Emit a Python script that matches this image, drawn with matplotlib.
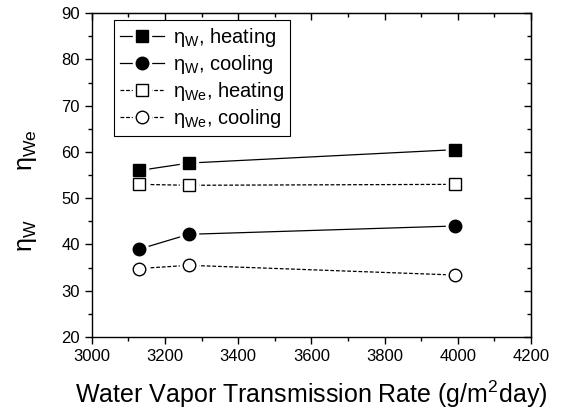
import numpy as np
import matplotlib
matplotlib.use('Agg')
import matplotlib.pyplot as plt
from matplotlib.ticker import MultipleLocator
from matplotlib.lines import Line2D
from matplotlib.legend_handler import HandlerTuple

plt.rcParams['font.family'] = ['Liberation Sans', 'DejaVu Sans']
plt.rcParams['mathtext.fontset'] = 'custom'
plt.rcParams['mathtext.rm'] = 'Liberation Sans'

wvtr = [3130, 3265, 3993]
eta_w_heat = [56.0, 57.6, 60.5]
eta_w_cool = [39.0, 42.2, 44.0]
eta_we_heat = [53.0, 52.8, 53.0]
eta_we_cool = [34.8, 35.5, 33.4]

series = [
    (eta_w_heat, 's', 'k', '-', 'η$_\\mathregular{W}$, heating'),
    (eta_w_cool, 'o', 'k', '-', 'η$_\\mathregular{W}$, cooling'),
    (eta_we_heat, 's', 'w', (0, (3, 1.5)), 'η$_\\mathregular{We}$, heating'),
    (eta_we_cool, 'o', 'w', (0, (3, 1.5)), 'η$_\\mathregular{We}$, cooling'),
]

fig = plt.figure(figsize=(5.63, 4.12), dpi=100)
ax = fig.add_axes([0.163, 0.182, 0.780, 0.786])

handles, labels = [], []
for vals, mk, fc, ls, lab in series:
    ax.plot(wvtr, vals, color='k', lw=0.9, ls=ls, zorder=2)
    # white halo so the line stops short of the marker
    ax.plot(wvtr, vals, ls='none', marker=mk, ms=13, mfc='w', mec='w', zorder=3)
    ax.plot(wvtr, vals, ls='none', marker=mk, ms=9, mfc=fc, mec='k', mew=1.0, zorder=4)
    h = (Line2D([], [], color='k', lw=0.9, ls=ls),
         Line2D([], [], ls='none', marker=mk, ms=13, mfc='w', mec='w'),
         Line2D([], [], ls='none', marker=mk, ms=9, mfc=fc, mec='k', mew=1.0))
    handles.append(h)
    labels.append(lab)

ax.set_xlim(3000, 4200)
ax.set_ylim(20, 90)
ax.xaxis.set_major_locator(MultipleLocator(200))
ax.xaxis.set_minor_locator(MultipleLocator(100))
ax.yaxis.set_major_locator(MultipleLocator(10))
ax.yaxis.set_minor_locator(MultipleLocator(5))
ax.tick_params(which='both', direction='out', labelsize=12, width=1.0)
ax.tick_params(which='major', length=5)
ax.tick_params(which='minor', length=3)
# mirrored ticks on top / right point inwards
axt = ax.secondary_xaxis('top')
axt.xaxis.set_major_locator(MultipleLocator(200))
axt.xaxis.set_minor_locator(MultipleLocator(100))
axt.tick_params(which='both', direction='in', labeltop=False, width=1.0)
axt.tick_params(which='major', length=5)
axt.tick_params(which='minor', length=3)
axr = ax.secondary_yaxis('right')
axr.yaxis.set_major_locator(MultipleLocator(10))
axr.yaxis.set_minor_locator(MultipleLocator(5))
axr.tick_params(which='both', direction='in', labelright=False, width=1.0)
axr.tick_params(which='major', length=5)
axr.tick_params(which='minor', length=3)
for sp in ax.spines.values():
    sp.set_linewidth(1.0)

ax.set_xlabel('Water Vapor Transmission Rate (g/m$^\\mathregular{2}$day)', fontsize=18, labelpad=11)
fig.text(0.048, 0.636, 'η$_\\mathregular{We}$', rotation=90, fontsize=18, ha='center', va='center')
fig.text(0.048, 0.427, 'η$_\\mathregular{W}$', rotation=90, fontsize=18, ha='center', va='center')

leg = ax.legend(handles, labels, handler_map={tuple: HandlerTuple(ndivide=1)},
                loc='upper left', bbox_to_anchor=(0.05, 0.978), borderaxespad=0, fontsize=14.5,
                numpoints=1, handlelength=2.2, handletextpad=0.45, labelspacing=0.2,
                borderpad=0.3, fancybox=False, edgecolor='k', framealpha=1)
leg.get_frame().set_linewidth(0.8)

fig.savefig('out.png', dpi=100)
